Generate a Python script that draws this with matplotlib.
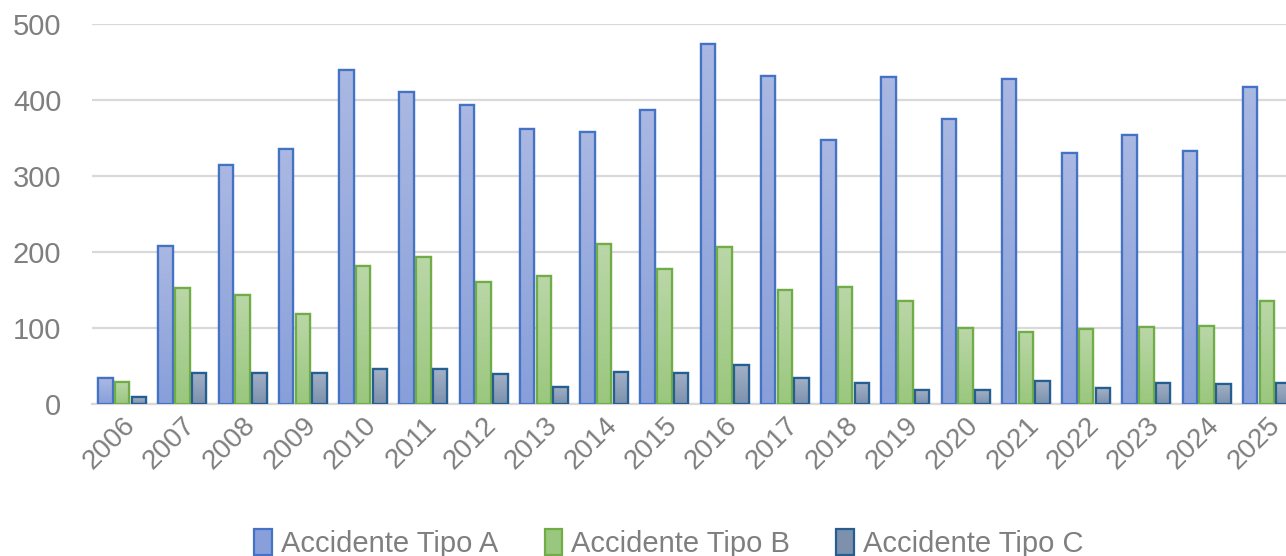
import numpy as np
import matplotlib
matplotlib.use("Agg")
import matplotlib.pyplot as plt
from matplotlib.colors import LinearSegmentedColormap

# datos
years = [str(y) for y in range(2006, 2026)]
tipo_a = [34, 208, 315, 335, 440, 411, 393, 362, 358, 387,
          474, 431, 348, 430, 375, 428, 330, 354, 333, 417]
tipo_b = [29, 152, 144, 118, 181, 193, 161, 168, 210, 178,
          207, 150, 154, 136, 100, 95, 99, 101, 103, 135]
tipo_c = [9, 41, 41, 41, 46, 46, 39, 23, 42, 41,
          51, 34, 27, 19, 18, 30, 21, 28, 26, 28]
series_names = ["Accidente Tipo A", "Accidente Tipo B", "Accidente Tipo C"]

# (arriba, abajo, borde)
styles = [("#AAB8E2", "#889FDA", "#4472C4"),
          ("#BAD7A7", "#9AC77E", "#70AD47"),
          ("#A2B0C6", "#7D91AD", "#255E91")]

plt.rcParams['font.family'] = ['Liberation Sans', 'DejaVu Sans']
grey = "#7F7F7F"

fig = plt.figure(figsize=(12.86, 5.56), dpi=100)
ax = fig.add_axes([92 / 1286, (556 - 404) / 556, 1 - 92 / 1286, 380 / 556])

x = np.arange(len(years))
step = 0.277
width = 0.24
handles = []
for i, (vals, (top, bot, edge)) in enumerate(zip([tipo_a, tipo_b, tipo_c], styles)):
    bars = ax.bar(x + (i - 1) * step, vals, width, facecolor=bot, edgecolor=edge,
                  linewidth=1.6, zorder=3, label=series_names[i])
    cmap = LinearSegmentedColormap.from_list("g%d" % i, [bot, top])
    grad = np.linspace(0, 1, 64).reshape(-1, 1)
    for b in bars:
        bx, by, bw, bh = b.get_x(), b.get_y(), b.get_width(), b.get_height()
        im = ax.imshow(grad, cmap=cmap, origin="lower", aspect="auto",
                       extent=[bx, bx + bw, by, by + bh], zorder=3.5)
        im.set_clip_path(b)
        # re-draw edge over gradient
        ax.bar(bx + bw / 2, bh, bw, facecolor="none", edgecolor=edge,
               linewidth=1.6, zorder=4)
    handles.append(bars)

ax.set_xlim(-0.5, 19.5 - 11 / 60.26)
ax.set_ylim(0, 500)
ax.set_yticks(range(0, 501, 100))
ax.yaxis.grid(True, color="#D9D9D9", linewidth=1.6, zorder=0)
for s in ["top", "right", "left"]:
    ax.spines[s].set_visible(False)
ax.spines["bottom"].set_color("#D9D9D9")
ax.spines["bottom"].set_linewidth(1.6)
ax.tick_params(axis="both", length=0, labelsize=21, labelcolor=grey)
ax.tick_params(axis="y", pad=22)
ax.tick_params(axis="x", labelsize=20, pad=6)
ax.set_xticks(x)
ax.set_xticklabels(years, rotation=45, ha="right", rotation_mode="anchor")

fig.legend(handles=handles, labels=series_names, loc="lower center",
           bbox_to_anchor=(0.52, -0.05), ncol=3, frameon=False, fontsize=21,
           labelcolor=grey, handlelength=0.6, handleheight=1.0,
           handletextpad=0.3, columnspacing=1.6)

fig.savefig("out.png", dpi=100)
